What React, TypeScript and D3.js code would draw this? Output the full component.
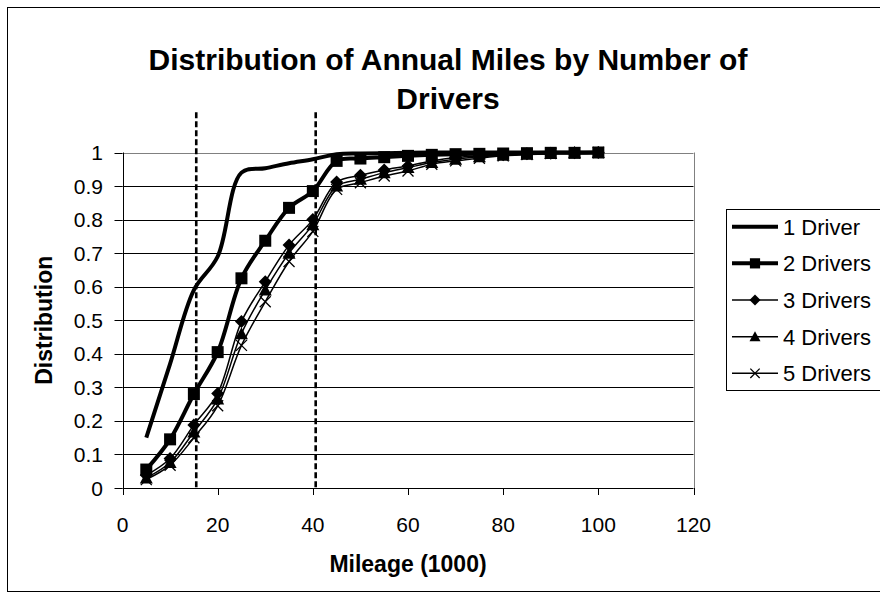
import React from "react";
import * as d3 from "d3";

const mileage = [5, 10, 15, 20, 25, 30, 35, 40, 45, 50, 55, 60, 65, 70, 75, 80, 85, 90, 95, 100];
const driver1 = [0.15, 0.37, 0.59, 0.69, 0.94, 0.953, 0.968, 0.98, 0.995, 0.997, 0.998, 0.999, 1, 1, 1, 1, 1, 1, 1, 1];
const driver2 = [0.055, 0.145, 0.28, 0.405, 0.625, 0.737, 0.835, 0.885, 0.975, 0.982, 0.986, 0.99, 0.993, 0.995, 0.996, 0.997, 0.998, 0.999, 0.999, 1];
const driver3 = [0.038, 0.088, 0.188, 0.282, 0.496, 0.615, 0.724, 0.8, 0.912, 0.932, 0.948, 0.96, 0.975, 0.985, 0.99, 0.993, 0.996, 0.998, 0.999, 1];
const driver4 = [0.03, 0.076, 0.167, 0.265, 0.46, 0.59, 0.7, 0.785, 0.9, 0.92, 0.94, 0.955, 0.97, 0.98, 0.987, 0.992, 0.995, 0.997, 0.999, 1];
const driver5 = [0.025, 0.068, 0.15, 0.245, 0.425, 0.555, 0.675, 0.765, 0.89, 0.91, 0.93, 0.945, 0.965, 0.975, 0.983, 0.99, 0.994, 0.997, 0.999, 1];
const seriesNames = ["1 Driver", "2 Drivers", "3 Drivers", "4 Drivers", "5 Drivers"];
const cutoffs = [15.5, 40.6];
const cutoffTop = 1.12;
const xTicks = [0, 20, 40, 60, 80, 100, 120];
const yTicks = [0, 0.1, 0.2, 0.3, 0.4, 0.5, 0.6, 0.7, 0.8, 0.9, 1];

const FONT = "'Liberation Sans', Arial, sans-serif";

type MarkerKind = "none" | "square" | "diamond" | "triangle" | "x";

function Marker({ kind, x, y, s = 1 }: { kind: MarkerKind; x: number; y: number; s?: number }) {
  if (kind === "square") return <rect x={x - 6 * s} y={y - 6 * s} width={12 * s} height={12 * s} fill="#000" />;
  if (kind === "diamond")
    return <path d={`M${x},${y - 6.5 * s}L${x + 6.5 * s},${y}L${x},${y + 6.5 * s}L${x - 6.5 * s},${y}Z`} fill="#000" />;
  if (kind === "triangle")
    return <path d={`M${x},${y - 6.5 * s}L${x + 6.5 * s},${y + 5.5 * s}L${x - 6.5 * s},${y + 5.5 * s}Z`} fill="#000" />;
  if (kind === "x")
    return (
      <path
        d={`M${x - 5.5 * s},${y - 5.5 * s}L${x + 5.5 * s},${y + 5.5 * s}M${x - 5.5 * s},${y + 5.5 * s}L${x + 5.5 * s},${y - 5.5 * s}`}
        stroke="#000"
        strokeWidth={1.3}
        fill="none"
      />
    );
  return null;
}

export default function App() {
  const x = d3.scaleLinear().domain([0, 120]).range([122.5, 693.5]);
  const y = d3.scaleLinear().domain([0, 1]).range([488, 152.5]);

  const series = [
    { name: seriesNames[0], values: driver1, width: 4, marker: "none" as MarkerKind },
    { name: seriesNames[1], values: driver2, width: 4, marker: "square" as MarkerKind },
    { name: seriesNames[2], values: driver3, width: 1.5, marker: "diamond" as MarkerKind },
    { name: seriesNames[3], values: driver4, width: 1.5, marker: "triangle" as MarkerKind },
    { name: seriesNames[4], values: driver5, width: 1.5, marker: "x" as MarkerKind },
  ];

  const line = d3
    .line<number>()
    .x((_, i) => x(mileage[i]))
    .y((d) => y(d))
    .curve(d3.curveCatmullRom.alpha(0.5));

  const px = (v: number) => Math.round(v) + 0.5;

  return (
    <svg width={880} height={600} style={{ position: "absolute", left: 0, top: 0, background: "#fff" }} fontFamily={FONT}>
      <rect x={0} y={0} width={880} height={600} fill="#fff" />
      <rect x={7.5} y={7.5} width={900} height={584} fill="none" stroke="#000" strokeWidth={1} />

      {/* title */}
      <text x={448} y={70} textAnchor="middle" fontSize={30} fontWeight="bold">
        Distribution of Annual Miles by Number of
      </text>
      <text x={448} y={109} textAnchor="middle" fontSize={30} fontWeight="bold">
        Drivers
      </text>

      {/* gridlines */}
      {yTicks.slice(1, -1).map((t) => (
        <line key={t} x1={x(0)} x2={x(120)} y1={px(y(t))} y2={px(y(t))} stroke="#000" strokeWidth={1} />
      ))}
      <line x1={x(0)} x2={x(120)} y1={px(y(1))} y2={px(y(1))} stroke="#808080" strokeWidth={1} />
      <line x1={px(x(120))} x2={px(x(120))} y1={y(1)} y2={y(0)} stroke="#808080" strokeWidth={1} />

      {/* axes */}
      <line x1={px(x(0))} x2={px(x(0))} y1={y(1)} y2={y(0)} stroke="#000" />
      <line x1={x(0)} x2={x(120)} y1={px(y(0))} y2={px(y(0))} stroke="#000" />
      {yTicks.map((t) => (
        <g key={t}>
          <line x1={x(0) - 8} x2={x(0)} y1={px(y(t))} y2={px(y(t))} stroke="#000" />
          <text x={103} y={y(t) + 7.5} textAnchor="end" fontSize={21}>
            {t}
          </text>
        </g>
      ))}
      {xTicks.map((t) => (
        <g key={t}>
          <line x1={px(x(t))} x2={px(x(t))} y1={y(0)} y2={y(0) + 7} stroke="#000" />
          <text x={x(t)} y={532} textAnchor="middle" fontSize={21}>
            {t}
          </text>
        </g>
      ))}
      <text x={(x(0) + x(120)) / 2} y={572} textAnchor="middle" fontSize={23} fontWeight="bold">
        Mileage (1000)
      </text>
      <text transform={`translate(52,${(y(0) + y(1)) / 2}) rotate(-90)`} textAnchor="middle" fontSize={23} fontWeight="bold">
        Distribution
      </text>

      {/* cutoff lines */}
      {cutoffs.map((c) => (
        <line key={c} x1={x(c)} x2={x(c)} y1={y(cutoffTop)} y2={y(0)} stroke="#000" strokeWidth={2.6} strokeDasharray="6,3" />
      ))}

      {/* series */}
      {series.map((s) => (
        <g key={s.name}>
          <path d={line(s.values) || ""} fill="none" stroke="#000" strokeWidth={s.width} strokeLinejoin="round" />
          {s.values.map((v, i) => (
            <Marker key={i} kind={s.marker} x={x(mileage[i])} y={y(v)} />
          ))}
        </g>
      ))}

      {/* legend */}
      <rect x={726.5} y={209.5} width={200} height={181} fill="#fff" stroke="#000" strokeWidth={1} />
      {series.map((s, i) => {
        const cy = 226.7 + i * 36.65;
        return (
          <g key={s.name}>
            <line x1={732} x2={778} y1={cy} y2={cy} stroke="#000" strokeWidth={s.width} />
            <Marker kind={s.marker} x={755} y={cy} s={0.85} />
            <text x={783} y={cy + 8} fontSize={22}>
              {s.name}
            </text>
          </g>
        );
      })}
    </svg>
  );
}
